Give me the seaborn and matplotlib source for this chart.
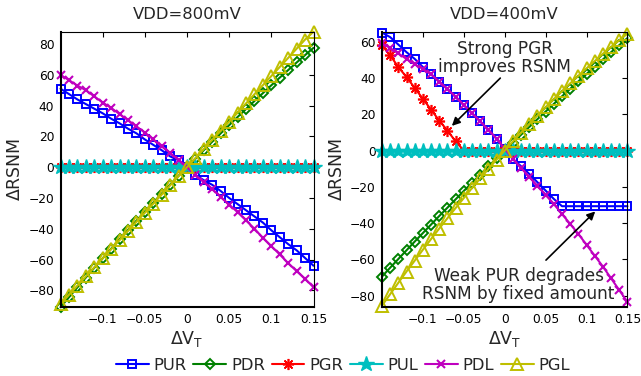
import matplotlib
matplotlib.use('Agg')
import matplotlib.pyplot as plt
import seaborn as sns
import pandas as pd

# ---------------- data ----------------
x_vals = [-0.15, -0.14, -0.13, -0.12, -0.11, -0.10, -0.09, -0.08, -0.07, -0.06,
          -0.05, -0.04, -0.03, -0.02, -0.01, 0.0, 0.01, 0.02, 0.03, 0.04,
          0.05, 0.06, 0.07, 0.08, 0.09, 0.10, 0.11, 0.12, 0.13, 0.14, 0.15]

series_names = ['PUR', 'PDR', 'PGR', 'PUL', 'PDL', 'PGL']
titles = ['VDD=800mV', 'VDD=400mV']

# VDD = 800 mV
pur_800 = [51, 47.5, 44, 41, 38, 35, 31.5, 28.5, 25, 22, 18, 14.5, 11, 7, 4.5, 0,
           -5, -8.5, -11.5, -15.5, -20, -24, -28, -32, -36, -41, -45.5, -50, -54, -59, -64]
pdr_800 = [-91, -84.5, -78.1, -71.7, -65.4, -59.2, -53, -46.8, -40.8, -34.8, -28.8, -23,
           -17.2, -11.3, -5.6, 0, 5.6, 11.1, 16.6, 22, 27.3, 32.6, 37.8, 43, 48.1, 53.2,
           58.2, 63.1, 68, 72.8, 77.5]
pgr_800 = [0, 0, 0, 0, 0, 0, 0, 0, 0, 0, 0, 0, 0, 0, 0, 0,
           0, 0, 0, 0, 0, 0, 0, 0, 0, 0, 0, 0, 0, 0, 0]
pul_800 = [0, 0, 0, 0, 0, 0, 0, 0, 0, 0, 0, 0, 0, 0, 0, 0,
           0, 0, 0, 0, 0, 0, 0, 0, 0, 0, 0, 0, 0, 0, 0]
pdl_800 = [60, 56.5, 53, 50, 46, 42, 38.5, 34.5, 30.5, 26.5, 22.5, 18, 13.5, 9.3, 4.5, 0,
           -5, -9.8, -14.1, -19.5, -24.3, -29.2, -34.6, -40, -45.9, -51.3, -56.7, -62.4,
           -67.5, -72.5, -78]
pgl_800 = [-89, -82.9, -77, -71, -65.1, -59.2, -53.3, -47.4, -41.4, -35.5, -29.6, -23.7,
           -17.8, -11.8, -5.9, 0, 5.9, 11.8, 17.8, 23.7, 29.6, 35.5, 41.4, 47.4, 53.3,
           59.2, 65.1, 71, 77, 82.9, 88]

# VDD = 400 mV
pur_400 = [65, 62.5, 58.4, 54.2, 50.5, 46, 42, 38, 34, 29.5, 25, 20.5, 16, 11.5, 6.5, 1,
           -4.6, -8.7, -12.9, -17.5, -22.1, -26.7, -30.7, -30.7, -30.7, -30.7, -30.7,
           -30.7, -30.7, -30.7, -30.7]
pdr_400 = [-69.5, -64.6, -59.8, -55, -50.2, -45.5, -40.8, -36.1, -31.5, -26.9, -22.3,
           -17.8, -13.3, -8.8, -4.4, 0, 4.4, 8.7, 13, 17.3, 21.5, 25.7, 29.9, 34, 38.1,
           42.2, 46.2, 50.2, 54.2, 58.1, 62]
pgr_400 = [58, 52.5, 46, 40.5, 34.5, 28.5, 22.5, 16.5, 11, 5, 0, 0, 0, 0, 0, 0,
           0, 0, 0, 0, 0, 0, 0, 0, 0, 0, 0, 0, 0, 0, 0]
pul_400 = [0, 0, 0, 0, 0, 0, 0, 0, 0, 0, 0, 0, 0, 0, 0, 0,
           0, 0, 0, 0, 0, 0, 0, 0, 0, 0, 0, 0, 0, 0, 0]
pdl_400 = [59, 56.5, 53.5, 50.5, 47.5, 45, 42, 38, 34, 29.5, 25, 20.5, 16, 11.5, 6.5, 1,
           -4.8, -9.5, -14.5, -19.5, -24.5, -29.5, -35, -40.5, -46, -52, -58, -64,
           -70.5, -77, -83.5]
pgl_400 = [-85.5, -79.2, -72.9, -66.7, -60.7, -54.7, -48.8, -43, -37.3, -31.7, -26.2,
           -20.7, -15.4, -10.2, -5, 0, 5, 9.8, 14.6, 19.3, 23.8, 28.3, 32.7, 37, 41.2,
           45.3, 49.3, 53.3, 57.1, 60.8, 64.5]

xtick_vals = [-0.1, -0.05, 0, 0.05, 0.1, 0.15]
xtick_labels = ['\u22120.1', '\u22120.05', '0', '0.05', '0.1', '0.15']
ytick_vals_800 = [-80, -60, -40, -20, 0, 20, 40, 60, 80]
ytick_vals_400 = [-80, -60, -40, -20, 0, 20, 40, 60]

data_800 = dict(zip(series_names, [pur_800, pdr_800, pgr_800, pul_800, pdl_800, pgl_800]))
data_400 = dict(zip(series_names, [pur_400, pdr_400, pgr_400, pul_400, pdl_400, pgl_400]))

# ---------------- style ----------------
sns.set_style('white')
plt.rcParams['font.family'] = ['DejaVu Sans']
plt.rcParams['mathtext.default'] = 'regular'

styles = {
    'PUR': dict(color='#0000ff', marker='s', ms=6.2, mew=1.4, mfc='none'),
    'PDR': dict(color='#008000', marker='D', ms=5.3, mew=1.4, mfc='none'),
    'PGR': dict(color='#ff0000', marker=(8, 2, 0), ms=8.0, mew=1.2, mfc='none'),
    'PUL': dict(color='#00bfbf', marker='*', ms=11.5, mew=1.0, mfc='#00bfbf'),
    'PDL': dict(color='#bf00bf', marker='x', ms=5.8, mew=1.5, mfc='none'),
    'PGL': dict(color='#bfbf00', marker='^', ms=8.3, mew=1.4, mfc='none'),
}

fig = plt.figure(figsize=(6.41, 3.76), dpi=100)
ax1 = fig.add_axes([0.0944, 0.1848, 0.3947, 0.7309])
ax2 = fig.add_axes([0.5959, 0.1848, 0.3830, 0.7309])


def draw(ax, data, title, ylim, yticks):
    for name in series_names:
        st = styles[name]
        df = pd.DataFrame({'x': x_vals, 'y': data[name]})
        sns.lineplot(data=df, x='x', y='y', ax=ax, color=st['color'],
                     marker=st['marker'], markersize=st['ms'],
                     markeredgecolor=st['color'], markerfacecolor=st['mfc'],
                     markeredgewidth=st['mew'], linewidth=1.5,
                     errorbar=None, estimator=None, label=name, legend=False,
                     clip_on=False)
    ax.set_xlim(-0.15, 0.15)
    ax.set_ylim(*ylim)
    ax.set_xticks(xtick_vals)
    ax.set_xticklabels(xtick_labels)
    ax.set_yticks(yticks)
    ax.set_yticklabels([str(v).replace('-', '\u2212') for v in yticks])
    ax.tick_params(direction='in', top=True, right=True, length=3.5, width=0.8,
                   labelsize=8.8, pad=4.5, colors='k')
    for side in ['left', 'bottom']:
        ax.spines[side].set_linewidth(1.5)
        ax.spines[side].set_color('k')
    for side in ['top', 'right']:
        ax.spines[side].set_linewidth(0.8)
        ax.spines[side].set_color('k')
    ax.set_title(title, fontsize=11.8, pad=9)
    ax.set_xlabel(r'$\Delta V_T$', fontsize=12.5, labelpad=2)
    ax.set_ylabel(r'$\Delta$RSNM', fontsize=12.5, labelpad=3)


draw(ax1, data_800, titles[0], (-90.5, 88), ytick_vals_800)
draw(ax2, data_400, titles[1], (-86, 65.5), ytick_vals_400)

# annotations (right panel)
ax2.text(0.0, 51, 'Strong PGR\nimproves RSNM', ha='center', va='center',
         fontsize=12.2, linespacing=1.0)
ax2.annotate('', xy=(-0.067, 12.5), xytext=(-0.003, 41),
             arrowprops=dict(arrowstyle='-|>', color='k', lw=1.2, mutation_scale=12))
ax2.text(0.017, -74, 'Weak PUR degrades\nRSNM by fixed amount', ha='center',
         va='center', fontsize=12.2, linespacing=1.0)
ax2.annotate('', xy=(0.113, -32.5), xytext=(0.048, -61.5),
             arrowprops=dict(arrowstyle='-|>', color='k', lw=1.2, mutation_scale=12))

handles = ax1.get_lines()[:6]
fig.legend(handles, series_names, loc='center', bbox_to_anchor=(343 / 641, 1 - 365 / 376),
           ncol=6, frameon=False, fontsize=11.8, handlelength=2.0, handletextpad=0.3,
           columnspacing=0.4, borderaxespad=0, borderpad=0)

fig.savefig('out.png', dpi=100)
